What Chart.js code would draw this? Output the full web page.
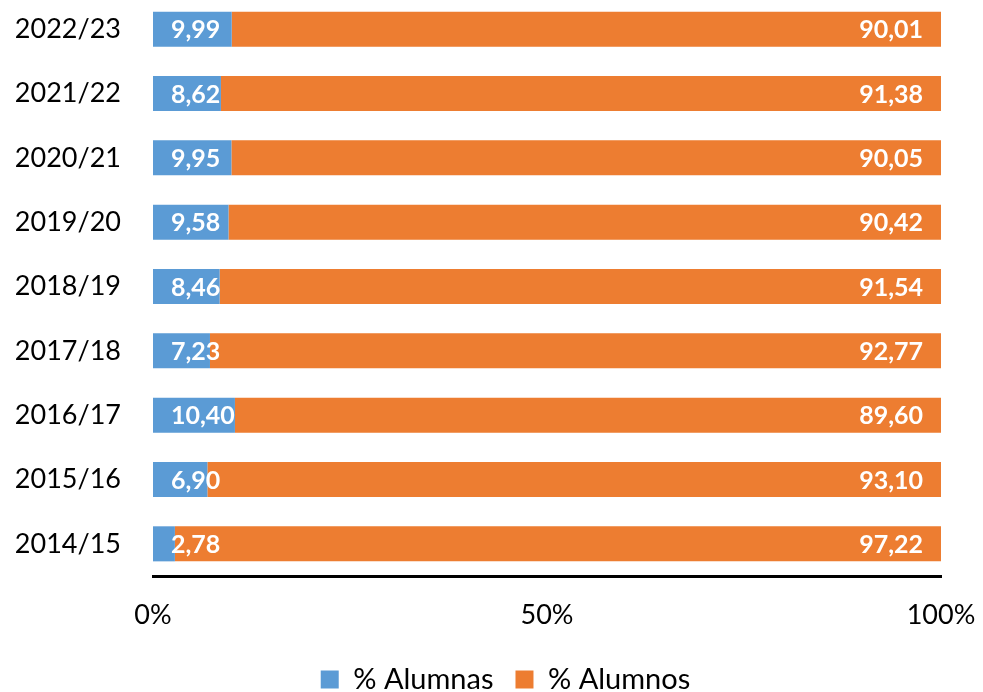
<!DOCTYPE html>
<html>
<head>
<meta charset="utf-8">
<script src="https://cdn.jsdelivr.net/npm/chart.js@4/dist/chart.umd.min.js"></script>
<style>
  html, body { margin: 0; padding: 0; background: #fff; overflow: hidden; }
  /* el area del grafico empieza un poco por encima del borde, como en el original */
  #wrap { width: 983px; height: 695px; position: relative; margin-top: -3px; }
</style>
</head>
<body>
<div id="wrap"><canvas id="cursosChart"></canvas></div>
<script>
const cursos = ['2022/23', '2021/22', '2020/21', '2019/20', '2018/19', '2017/18', '2016/17', '2015/16', '2014/15'];
const alumnas = [9.99, 8.62, 9.95, 9.58, 8.46, 7.23, 10.40, 6.90, 2.78];
const alumnos = [90.01, 91.38, 90.05, 90.42, 91.54, 92.77, 89.60, 93.10, 97.22];
const ejeX = [0, 50, 100];

Chart.defaults.font.family = 'Lato';
Chart.defaults.color = '#000';

const formato = v => v.toFixed(2).replace('.', ',');

// etiquetas blancas al final de cada segmento
const etiquetas = {
  id: 'etiquetas',
  afterDatasetsDraw(chart) {
    const ctx = chart.ctx;
    ctx.save();
    ctx.font = 'bold 25px Lato';
    ctx.fillStyle = '#fff';
    ctx.textBaseline = 'middle';
    ctx.textAlign = 'left';
    chart.data.datasets.forEach((ds, i) => {
      chart.getDatasetMeta(i).data.forEach((bar, j) => {
        const txt = formato(ds.data[j]);
        const w = ctx.measureText(txt).width;
        const izq = Math.max(bar.x - 18 - w, bar.base + 18);
        ctx.fillText(txt, izq, bar.y + 1);
      });
    });
    ctx.restore();
  }
};

// la leyenda va centrada bajo el area de datos, no bajo todo el lienzo
const moverLeyenda = {
  id: 'moverLeyenda',
  afterLayout(chart) {
    const lg = chart.legend;
    if (!lg) return;
    lg.left += 35;
    lg.right += 35;
  }
};

new Chart(document.getElementById('cursosChart').getContext('2d'), {
  type: 'bar',
  data: {
    labels: cursos,
    datasets: [
      {
        label: '% Alumnas',
        data: alumnas,
        backgroundColor: '#5B9BD5',
        borderWidth: 0,
        categoryPercentage: 1,
        barPercentage: 0.545
      },
      {
        label: '% Alumnos',
        data: alumnos,
        backgroundColor: '#ED7D31',
        borderWidth: 0,
        categoryPercentage: 1,
        barPercentage: 0.545
      }
    ]
  },
  options: {
    indexAxis: 'y',
    responsive: true,
    maintainAspectRatio: false,
    animation: false,
    layout: {
      padding: { top: 0, right: 42, bottom: -12, left: 0 }
    },
    plugins: {
      tooltip: { enabled: false },
      legend: {
        position: 'bottom',
        labels: {
          font: { size: 29 },
          color: '#000',
          boxWidth: 18,
          boxHeight: 18,
          padding: 22
        }
      }
    },
    scales: {
      x: {
        stacked: true,
        min: 0,
        max: 100,
        afterBuildTicks(scale) {
          scale.ticks = ejeX.map(v => ({ value: v }));
        },
        afterFit(scale) {
          scale.height = 67;
          scale.paddingLeft = 0;
          scale.paddingRight = 0;
        },
        grid: { display: false, drawTicks: false },
        border: { display: true, color: '#000', width: 3 },
        ticks: {
          font: { size: 27, lineHeight: 1 },
          color: '#000',
          padding: 26,
          maxRotation: 0,
          callback: v => v + '%'
        }
      },
      y: {
        stacked: true,
        afterFit(scale) {
          scale.width = 153;
          scale.paddingTop = 0;
          scale.paddingBottom = 0;
        },
        grid: { display: false, drawTicks: false },
        border: { display: false },
        ticks: {
          font: { size: 27 },
          color: '#000',
          padding: 32
        }
      }
    }
  },
  plugins: [etiquetas, moverLeyenda]
});
</script>
</body>
</html>
